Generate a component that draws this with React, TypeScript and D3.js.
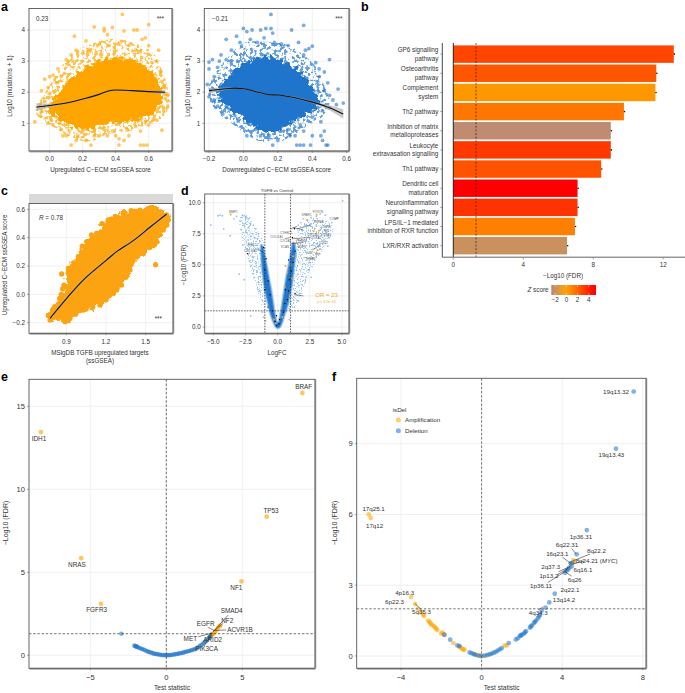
import React from "react";
import * as d3 from "d3";

type P = number[];
const FONT = "'Liberation Sans', Arial, sans-serif";
const ORANGE = "#FFA500";
const BLUE = "#1F74CC";

// ---- panel a, upregulated
const a1Halo: P[] = [[-0.09,1.44],[-0.03,1.95],[0.03,2.5],[0.09,2.95],[0.17,3.35],[0.28,3.6],[0.39,3.72],[0.5,3.6],[0.62,3.3],[0.68,2.72],[0.72,2.09],[0.73,1.6],[0.67,1.13],[0.57,0.88],[0.46,0.72],[0.35,0.65],[0.27,0.45],[0.18,0.45],[0.1,0.62],[0.02,0.9],[-0.04,1.1],[-0.08,1.28]];
const a1Core: P[] = [[-0.01,1.55],[0.05,1.95],[0.11,2.35],[0.19,2.7],[0.29,3.0],[0.4,3.1],[0.52,3.0],[0.6,2.75],[0.66,2.3],[0.68,1.8],[0.63,1.35],[0.54,1.15],[0.42,1.03],[0.32,0.97],[0.25,0.82],[0.17,0.82],[0.1,1.0],[0.04,1.2],[-0.01,1.35]];
const a1Points: P[] = [[0.44,4.5],[0.6,4.17],[0.27,4.1],[0.33,3.97],[0.35,3.85],[0.33,4.05],[0.38,4.08],[0.45,3.97],[0.51,4.0],[0.53,4.0],[0.15,3.8],[0.58,3.75],[0.22,3.65],[0.3,3.55],[0.56,3.7],[0.6,3.5],[0.66,3.35],[0.16,3.35],[0.05,2.75],[-0.03,2.42],[0.1,3.05],[0.13,3.2],[0.02,2.55],[-0.05,2.05],[-0.01,2.15],[0.0,1.95],[0.62,2.95],[0.67,2.65],[0.69,2.2],[0.71,1.95],[0.68,1.55],[0.69,1.4],[0.68,0.78],[0.6,0.95],[0.55,0.3],[0.57,0.3],[0.59,0.3],[0.42,0.3],[0.25,0.3],[0.13,0.3],[0.1,0.6],[0.08,0.6],[0.16,0.45],[0.17,0.6],[0.22,0.45],[0.3,0.6],[0.45,0.45],[0.48,0.6],[0.55,0.75],[0.07,0.8],[-0.01,1.0],[-0.09,1.05],[-0.05,1.37],[-0.06,1.25],[0.02,0.95],[0.04,1.2],[0.65,1.1],[0.62,1.3],[0.35,0.6],[0.4,0.6],[0.42,0.5],[0.27,0.6],[0.24,3.38],[0.28,3.25],[0.36,3.5],[0.42,3.55],[0.48,3.5],[0.52,3.35],[0.55,3.3],[0.2,3.25],[0.11,2.9],[0.07,2.5],[0.04,2.3],[0.0,2.5],[0.14,3.0],[0.65,3.0],[0.64,2.45],[0.68,2.35],[0.7,1.8],[-0.03,1.7],[0.01,1.1],[0.06,1.0],[0.12,0.75],[0.2,0.75],[0.27,0.8],[0.33,0.8],[0.38,0.75],[0.47,0.8],[0.52,0.9],[0.58,1.05],[0.63,1.15]];
const a1FitX = [-0.08,0,0.1,0.2,0.3,0.35,0.4,0.5,0.6,0.7];
const a1FitY = [1.52,1.57,1.65,1.78,1.93,2.03,2.07,2.05,2.02,2.0];
const a1FitSe = [0.13,0.06,0.03,0.02,0.02,0.02,0.02,0.02,0.03,0.07];

// ---- panel a, downregulated
const a2Halo: P[] = [[-0.2,2.19],[-0.14,2.8],[-0.08,3.2],[0.01,3.6],[0.13,3.62],[0.24,3.55],[0.35,3.2],[0.43,2.75],[0.47,2.19],[0.5,1.7],[0.46,1.23],[0.37,0.92],[0.3,0.65],[0.2,0.4],[0.08,0.45],[0.0,0.72],[-0.08,1.05],[-0.15,1.35],[-0.2,1.8]];
const a2Core: P[] = [[-0.15,2.05],[-0.09,2.45],[-0.03,2.8],[0.05,3.05],[0.13,3.15],[0.23,3.0],[0.31,2.72],[0.38,2.35],[0.42,2.0],[0.44,1.65],[0.39,1.38],[0.31,1.15],[0.25,0.92],[0.18,0.72],[0.1,0.77],[0.04,1.0],[-0.04,1.3],[-0.11,1.6],[-0.15,1.85]];
const a2Points: P[] = [[0.16,4.5],[0.35,4.15],[0.0,4.05],[0.02,3.95],[0.05,4.0],[0.1,4.0],[0.13,4.05],[0.16,4.05],[0.17,3.9],[0.28,4.0],[0.32,3.6],[0.4,3.48],[0.38,3.4],[0.36,3.35],[-0.04,3.8],[-0.1,3.7],[-0.2,2.97],[-0.2,2.75],[-0.18,3.05],[-0.13,3.2],[-0.1,3.05],[0.5,3.05],[0.44,2.75],[0.47,2.65],[0.49,2.3],[0.55,2.1],[0.58,1.65],[0.52,1.75],[0.54,1.6],[0.5,1.5],[-0.21,2.25],[-0.2,1.85],[-0.19,2.05],[-0.17,1.75],[-0.15,1.55],[-0.1,1.55],[-0.08,1.45],[-0.05,1.25],[0.02,0.6],[0.17,0.3],[0.31,0.3],[0.33,0.3],[0.35,0.3],[0.39,0.3],[0.49,0.3],[0.48,0.3],[0.45,0.6],[0.47,0.75],[0.46,0.45],[0.15,0.6],[0.2,0.45],[0.27,0.6],[0.3,0.6],[0.35,0.75],[0.4,0.6],[0.1,0.6],[0.07,0.8],[0.45,1.05],[-0.02,3.6],[0.04,3.7],[0.08,3.6],[0.12,3.75],[0.18,3.6],[0.22,3.55],[0.26,3.5],[-0.07,3.35],[-0.15,2.8],[-0.17,2.5],[-0.14,3.0],[0.35,3.2],[0.42,2.95],[0.44,2.5],[0.47,2.05],[0.5,1.9],[0.46,1.4],[0.4,1.2],[0.33,0.95],[0.26,0.8],[0.03,1.0],[-0.03,1.1],[-0.12,1.3]];
const a2FitX = [-0.2,-0.1,-0.05,0,0.1,0.15,0.2,0.3,0.4,0.5,0.58];
const a2FitY = [2.05,2.11,2.13,2.11,1.98,1.92,1.91,1.82,1.68,1.5,1.3];
const a2FitSe = [0.09,0.04,0.03,0.02,0.02,0.02,0.02,0.03,0.04,0.08,0.15];

// ---- panel b
const pathways = ["GP6 signalling|pathway","Osteoarthritis|pathway","Complement|system","Th2 pathway","Inhibition of matrix|metalloproteases","Leukocyte|extravasation signalling","Th1 pathway","Dendritic cell|maturation","Neuroinflammation|signalling pathway","LPS/IL−1 mediated|inhibition of RXR function","LXR/RXR activation"];
const pathwayFdr = [12.6,11.6,11.55,9.75,9.0,9.0,8.45,7.1,7.1,6.95,6.5];
const pathwayZ = [2.9,2.4,0.4,1.4,-2.4,3.3,2.5,5,3.45,1.15,-2.0];

// ---- panel c
const cCloud: P[] = [[0.764,-0.15],[0.814,-0.087],[0.852,-0.028],[0.903,0.054],[0.915,0.184],[0.991,0.266],[1.054,0.372],[1.129,0.431],[1.217,0.525],[1.331,0.572],[1.457,0.595],[1.57,0.607],[1.658,0.56],[1.671,0.525],[1.633,0.454],[1.583,0.372],[1.482,0.289],[1.406,0.242],[1.381,0.172],[1.318,0.066],[1.255,0.007],[1.154,-0.075],[1.028,-0.111],[0.928,-0.169],[0.89,-0.193],[0.84,-0.169],[0.777,-0.181]];
const cPoints: P[] = [[0.865,0.144],[1.575,0.209],[0.882,0.066],[0.872,0.038],[0.862,0.0],[0.85,-0.03],[0.915,-0.186],[0.95,0.2],[1.02,0.34],[1.09,0.42],[1.17,0.5],[1.27,0.55],[1.39,0.59],[1.51,0.6],[1.62,0.58],[1.66,0.49],[1.6,0.42],[1.53,0.33],[1.44,0.27],[1.39,0.21],[1.35,0.12],[1.28,0.03],[1.2,-0.04],[1.1,-0.09],[0.97,-0.14],[0.8,-0.12]];
const cFit: P[] = [[0.777,-0.169],[0.903,-0.028],[1.028,0.101],[1.204,0.242],[1.28,0.301],[1.406,0.379],[1.532,0.473],[1.658,0.567]];

// ---- panel d
const dCore: P[] = [[-0.15,0],[-0.5,0.8],[-0.8,2],[-1.0,3],[-1.15,4],[-1.25,5],[-1.3,6],[-1.3,6.6],[-1.15,6.5],[-1.0,5.8],[-0.85,5],[-0.68,4],[-0.5,3],[-0.35,2],[-0.2,1],[-0.05,0.4],[0.05,0.4],[0.2,1],[0.35,2],[0.5,3],[0.65,4],[0.85,5],[1.02,6],[1.2,6.8],[1.3,6.7],[1.4,6],[1.3,5],[1.2,4],[1.05,3],[0.85,2],[0.55,1],[0.2,0],[0,-0.1]];
const dHaloLeft: P[] = [[-1.1,1.5],[-1.6,3.0],[-2.15,4.85],[-2.5,6.2],[-2.9,7.6],[-2.9,8.9],[-2.2,8.9],[-1.9,8.1],[-1.4,7.5],[-1.05,6.7],[-0.9,5],[-0.75,3]];
const dHaloRight: P[] = [[0.75,1.3],[1.5,1.9],[2.25,3.8],[3,5.4],[3.8,6.7],[4.3,8.0],[3.2,8.8],[2.2,8.5],[1.6,7.9],[1.25,7],[0.95,5],[0.7,3]];
const dScatter: P[] = [[-5.2,8.2],[-4.64,8.95],[-4.48,9.0],[-4.3,8.95],[-4.2,7.9],[-3.7,7.35],[-3.4,8.7],[-3.2,8.9],[-2.75,9.0],[-2.6,8.95],[-2.45,8.85],[-2.3,8.7],[-2.9,8.5],[-2.6,8.3],[-2.3,8.0],[-2.1,8.3],[-1.9,8.2],[-1.7,7.9],[-2.4,7.6],[-2.1,7.3],[-1.8,7.2],[-1.5,7.5],[-2.7,6.6],[-2.4,6.3],[-2.3,7.0],[-2.0,6.6],[-1.7,6.3],[-1.4,6.9],[-2.2,5.3],[-2.1,4.9],[-1.9,5.6],[-1.7,5.1],[-1.6,4.5],[-1.5,3.6],[-1.9,4.3],[-1.4,2.9],[-3.0,4.25],[-2.6,3.8],[-2.1,0.9],[2.6,4.0],[2.05,5.1],[5.05,10.15],[4.5,8.7],[4.2,8.4],[3.7,9.0],[3.3,9.1],[3.0,8.9],[2.6,8.8],[2.3,8.6],[2.0,8.7],[1.8,8.4],[1.6,8.2],[2.2,8.2],[2.6,8.3],[3.0,8.2],[3.4,8.0],[3.8,7.6],[4.0,7.2],[3.6,7.0],[3.9,6.5],[3.3,6.3],[3.0,6.7],[2.7,6.6],[3.0,5.7],[2.8,5.5],[2.5,5.2],[2.4,4.6],[2.2,4.0],[1.9,3.4],[1.7,2.7],[1.6,2.1],[1.3,1.6],[-1.2,1.2],[-1.1,0.8],[0.9,0.6],[-0.95,0.5]];
const dGold: P[] = [[-3.65,9.05],[4.64,8.76],[3.03,9.03],[2.3,8.6],[2.8,7.7],[3.2,7.75],[1.6,7.0],[1.35,6.7],[3.1,6.2],[3.0,5.85],[2.7,5.5],[1.2,5.7],[1.0,5.0],[0.75,4.4],[0.6,4.9],[1.1,3.9],[0.55,3.2],[0.95,2.5],[-0.3,0.6],[0.35,0.8],[-0.15,0.3]];
const dBlack: P[] = [[-2.35,5.9],[-1.1,6.4],[-0.9,5.5],[-1.0,4.6],[-0.75,3.7],[-1.0,3.0],[-0.6,2.6],[-0.75,1.6],[-0.4,1.3],[-0.1,0.9],[-0.2,0.45],[-0.1,0.1],[0.1,0.25],[0.15,0.6],[0.45,1.2],[0.55,1.9],[0.75,2.2],[0.6,3.0],[0.85,2.9],[1.35,2.7],[0.9,3.8],[1.05,4.5],[1.2,5.2],[0.85,5.4],[1.35,6.1],[1.3,7.9],[1.15,7.2]];
const dTags = ["MMP1","POSTN","SPARC","COMP","INHBA","TGFBI","FN1","COL5A2 COL3A1","COL11A1","CTHRC1","COL1A2","LOXL2","COL1A1","THBS2","VCAN","ASPN","LUM","Fst","SFRP2","LRRC15","COL10A1"];
const dTagX = [-3.45,3.13,2.25,4.38,3.2,3.78,3.8,3.21,-0.08,0.67,2.95,3.55,0.6,1.9,0.57,1.9,2.44,3.16,2.56,-1.97,-2.1];
const dTagY = [9.2,9.19,8.97,8.6,8.36,8.0,7.66,7.29,7.15,7.45,7.07,6.67,6.8,6.8,6.32,6.32,5.9,5.8,5.38,6.53,6.0];

// ---- panel e
const eGenes = ["BRAF","IDH1","TP53","NRAS","NF1","FGFR3"];
const eGeneStat = [8.95,-8.25,6.6,-5.6,4.95,-4.3];
const eGeneFdr = [15.8,13.45,8.35,5.85,4.45,3.1];
const eBlueStat = [-2.95,-2.1,-2.05,-2.0,-1.95,-1.9,-1.8,-1.7,-1.6,-1.5,-1.4,-1.3,-1.2,-1.1,-1.0,-0.9,-0.8,-0.7,-0.6,-0.5,-0.4,-0.3,-0.2,-0.1,0,0.1,0.2,0.3,0.4,0.5,0.6,0.7,0.8,0.9,1.0,1.1,1.2,1.3,1.4,1.5,1.6,1.7,1.8,1.9,2.0,2.1,2.2,2.3,2.4,2.5,2.6,2.7,2.8,2.85,2.9,2.95,3.0];
const eBlueFdr = [1.3,0.58,0.56,0.54,0.52,0.5,0.45,0.42,0.38,0.35,0.3,0.26,0.22,0.19,0.17,0.13,0.1,0.08,0.07,0.05,0.03,0.02,0.01,0.01,0,0.01,0.01,0.02,0.03,0.05,0.07,0.08,0.1,0.12,0.14,0.16,0.19,0.21,0.24,0.26,0.29,0.32,0.35,0.38,0.42,0.48,0.55,0.62,0.7,0.78,0.85,0.95,1.05,1.1,1.15,1.2,1.27];
const eGoldStat = [3.0,3.1,3.2,3.3,3.4,3.5,3.55];
const eGoldFdr = [1.25,1.3,1.4,1.5,1.65,1.75,1.8];
const eTags = ["SMAD4","NF2","EGFR","ACVR1B","MET","ARID2","PIK3CA"];

// ---- panel f
const fDelStat = [7.55,6.67,5.22,4.72,4.42,4.47,4.3,4.22,4.14,3.63,3.36,3.18,2.98,2.9,2.8,2.7,2.6,2.5,2.4,2.2,2.1,2.0,1.9,1.8,1.7,1.35,1.0,0.9,0.8,0.7,0.6,0.5,0.4,0.3,0.15,0,-0.15,-0.3,-0.4,-0.5,-0.6,-1.1,-1.2,-1.56,-1.85,2.85,2.65,2.45,2.15,1.95,4.35,4.5];
const fDelFdr = [11.21,8.79,5.34,4.31,3.93,3.79,3.67,3.62,3.53,2.64,2.27,2.05,1.92,1.75,1.6,1.5,1.4,1.3,1.2,1.05,0.95,0.9,0.85,0.75,0.7,0.55,0.33,0.28,0.23,0.17,0.14,0.1,0.07,0.05,0.02,0,0.02,0.05,0.08,0.12,0.15,0.42,0.45,0.69,0.9,1.68,1.45,1.25,1.0,0.87,3.75,3.95];
const fAmpStat = [-5.6,-5.5,-3.5,-3.3,-3.15,-3.0,-2.9,-2.65,-2.55,-2.45,-2.35,-2.25,-2.2,-1.95,-1.85,-1.4,-1.1,-0.95,-0.9,-0.85,-0.35,-0.2,-0.05,0.2,1.15,1.25,4.55,4.6,4.45,-2.85,-2.6,-2.5,-2.3,-2.0,-1.05];
const fAmpFdr = [6.0,5.85,2.5,2.2,2.0,1.85,1.75,1.5,1.4,1.3,1.25,1.15,1.1,1.0,0.9,0.55,0.4,0.3,0.27,0.27,0.08,0.03,0,0.02,0.45,0.45,4.05,4.0,3.9,1.7,1.45,1.35,1.2,0.95,0.35];
const fTags = ["19q13.32","19q13.43","17q25.1","17q12","4p16.3","6p22.3","5q35.3","1p36.31","6q22.31","8q22.2","16q23.1","2q37.3","6q16.1","1p13.2","6q26","1p36.11","2q22.1","13q14.2","4q34.3"];

const W = 685, H = 693;

function xy(x: any, y: any) {
  return d3.line<P>().x(d => x(d[0])).y(d => y(d[1]));
}

const T = (p: any) => <text fontFamily={FONT} fontSize={6.3} fill="#333" {...p} />;

function Filters() {
  return (
    <defs>
      <filter id="speckle" x="-10%" y="-10%" width="120%" height="120%" colorInterpolationFilters="sRGB">
        <feTurbulence type="fractalNoise" baseFrequency="0.3" numOctaves="2" seed="4" result="n" />
        <feColorMatrix in="n" type="matrix" values="0 0 0 0 0  0 0 0 0 0  0 0 0 0 0  0 0 0 10 -4.9" result="m" />
        <feComposite in="SourceGraphic" in2="m" operator="in" />
      </filter>
      <filter id="speckleFine" x="-10%" y="-10%" width="120%" height="120%" colorInterpolationFilters="sRGB">
        <feTurbulence type="fractalNoise" baseFrequency="0.75" numOctaves="1" seed="9" result="n" />
        <feColorMatrix in="n" type="matrix" values="0 0 0 0 0  0 0 0 0 0  0 0 0 0 0  0 0 0 8 -4.2" result="m" />
        <feComposite in="SourceGraphic" in2="m" operator="in" />
      </filter>
      <filter id="rough" x="-10%" y="-10%" width="120%" height="120%" colorInterpolationFilters="sRGB">
        <feTurbulence type="fractalNoise" baseFrequency="0.22" numOctaves="2" seed="7" result="n" />
        <feDisplacementMap in="SourceGraphic" in2="n" scale="11" xChannelSelector="R" yChannelSelector="G" />
      </filter>
    </defs>
  );
}

function Frame({ x0, x1, y0, y1 }: any) {
  return (
    <g fill="none">
      <line x1={x0 + 0.5} x2={x1 + 0.5} y1={y1 + 0.5} y2={y1 + 0.5} stroke="#aaa" strokeWidth={2} />
      <line x1={x1 + 0.5} x2={x1 + 0.5} y1={y0} y2={y1} stroke="#aaa" strokeWidth={1.6} />
      <rect x={x0} y={y0} width={x1 - x0} height={y1 - y0} stroke="#555" strokeWidth={0.9} />
    </g>
  );
}

function Grid({ x, y, xt, yt, x0, x1, y0, y1 }: any) {
  return (
    <g stroke="#ececec" strokeWidth={0.8}>
      {xt.map((t: number) => <line key={"x" + t} x1={x(t)} x2={x(t)} y1={y0} y2={y1} />)}
      {yt.map((t: number) => <line key={"y" + t} y1={y(t)} y2={y(t)} x1={x0} x2={x1} />)}
    </g>
  );
}

function Ticks({ x, y, xt, yt, x0, y1, size = 6.3, xf, yf, xLab, yLab }: any) {
  const fx = xf || ((t: number) => d3.format(".1f")(t).replace("-", "−"));
  const fy = yf || ((t: number) => String(t).replace("-", "−"));
  return (
    <g>
      {xt.map((t: number) => (
        <g key={"x" + t}>
          <line x1={x(t)} x2={x(t)} y1={y1} y2={y1 + 2} stroke="#555" strokeWidth={0.5} />
          <T x={x(t)} y={y1 + (xLab ?? 9.5)} textAnchor="middle" fontSize={size}>{fx(t)}</T>
        </g>
      ))}
      {yt.map((t: number) => (
        <g key={"y" + t}>
          <line x1={x0 - 2} x2={x0} y1={y(t)} y2={y(t)} stroke="#555" strokeWidth={0.5} />
          <T x={x0 - (yLab ?? 4)} y={y(t) + size * 0.36} textAnchor="end" fontSize={size}>{fy(t)}</T>
        </g>
      ))}
    </g>
  );
}

const Dots = ({ pts, x, y, r, fill, op }: any) => (
  <g fill={fill} fillOpacity={op}>
    {pts.map((d: P, i: number) => <circle key={i} cx={x(d[0])} cy={y(d[1])} r={r} />)}
  </g>
);

function zip(a: number[], b: number[]): P[] { return a.map((v, i) => [v, b[i]]); }

function Blob({ pts, x, y, fill, op, filter }: any) {
  const l = xy(x, y).curve(d3.curveCatmullRomClosed.alpha(0.5));
  return <path d={l(pts) as string} fill={fill} fillOpacity={op} filter={filter} />;
}

function Fit({ xs, ys, se, x, y }: any) {
  const rows = xs.map((v: number, i: number) => [v, ys[i], se[i]]);
  const area = d3.area<number[]>().x(d => x(d[0])).y0(d => y(d[1] - d[2])).y1(d => y(d[1] + d[2])).curve(d3.curveMonotoneX);
  const line = d3.line<number[]>().x(d => x(d[0])).y(d => y(d[1])).curve(d3.curveMonotoneX);
  return (
    <g>
      <path d={area(rows) as string} fill="#aaa" fillOpacity={0.65} />
      <path d={line(rows) as string} fill="none" stroke="#111" strokeWidth={1.1} />
    </g>
  );
}

function Letter({ x, y, c }: any) {
  return <text x={x} y={y} fontFamily={FONT} fontWeight="bold" fontSize={12.5} fill="#000">{c}</text>;
}

function ScatterA({ x, y, x0, x1, xt, halo, core, pts, fit, fill, label, labelX, starX, axisLabel, ylabX }: any) {
  const y0 = 8.5, y1 = 151;
  const yt = [1, 2, 3, 4];
  return (
    <g>
      <Grid {...{ x, y, xt, yt, x0, x1, y0, y1 }} />
      <Blob pts={halo} x={x} y={y} fill={fill} op={0.7} filter="url(#speckle)" />
      <Blob pts={core} x={x} y={y} fill={fill} op={1} filter="url(#rough)" />
      <Dots pts={pts} x={x} y={y} r={1.9} fill={fill} op={0.6} />
      <Fit xs={fit[0]} ys={fit[1]} se={fit[2]} x={x} y={y} />
      <Frame {...{ x0, x1, y0, y1 }} />
      <Ticks {...{ x, y, xt, yt, x0, y1 }} />
      <T x={labelX} y={20.5} fontSize={6.3}>{label}</T>
      <T x={starX} y={20.5} textAnchor="end" fontSize={6.3}>***</T>
      <T x={(x0 + x1) / 2} y={172} textAnchor="middle">{axisLabel}</T>
      <T transform={`translate(${ylabX},86) rotate(-90)`} textAnchor="middle">Log10 (mutations + 1)</T>
    </g>
  );
}

function PanelB() {
  const x = d3.scaleLinear().domain([0, 12]).range([453.3, 663.3]);
  const y = d3.scaleBand<string>().domain(pathways).range([45.4, 254.4]).paddingInner(0.09);
  const z = d3.scaleLinear<string>().domain([-2.6, 0, 5]).range(["#BA8A7A", "#FFA500", "#FF0000"]);
  const zb = d3.scaleLinear().domain([-2.7, 5.3]).range([551.3, 596]);
  const stops = d3.range(-2.7, 5.31, 0.8);
  return (
    <g>
      <defs>
        <linearGradient id="zGrad" x1="0" x2="1" y1="0" y2="0">
          {stops.map(s => <stop key={s} offset={(s + 2.7) / 8} stopColor={z(Math.min(s, 5))} />)}
        </linearGradient>
      </defs>
      {pathways.map((p, i) => {
        const lines = p.split("|");
        const cy = (y(p) as number) + y.bandwidth() / 2;
        return (
          <g key={p}>
            <rect x={x(0)} y={y(p)} width={x(pathwayFdr[i]) - x(0)} height={y.bandwidth()} fill={z(pathwayZ[i])} />
            <circle cx={x(pathwayFdr[i]) + 0.6} cy={cy} r={0.8} fill="#111" />
            <line x1={440.3} x2={442.3} y1={cy} y2={cy} stroke="#444" strokeWidth={0.5} />
            {lines.map((l, j) => (
              <T key={j} x={438.3} y={cy + 2.2 + (j - (lines.length - 1) / 2) * 8.4} textAnchor="end">{l}</T>
            ))}
          </g>
        );
      })}
      <line x1={x(1.3)} x2={x(1.3)} y1={43} y2={257} stroke="#222" strokeWidth={0.7} strokeDasharray="2 1.6" />
      <line x1={x(0)} x2={x(0)} y1={43} y2={257} stroke="#111" strokeWidth={0.9} />
      <line x1={442.3} x2={442.3} y1={43} y2={257} stroke="#333" strokeWidth={0.9} />
      <line x1={442} x2={685} y1={257.2} y2={257.2} stroke="#666" strokeWidth={1} />
      {[0, 4, 8, 12].map(t => (
        <g key={t}>
          <line x1={x(t)} x2={x(t)} y1={257.5} y2={259.5} stroke="#555" strokeWidth={0.5} />
          <T x={x(t)} y={267} textAnchor="middle">{t}</T>
        </g>
      ))}
      <T x={563} y={278} textAnchor="middle">−Log10 (FDR)</T>
      <T x={548.5} y={292.3} textAnchor="end"><tspan fontStyle="italic">Z</tspan> score</T>
      <rect x={551.3} y={285} width={44.7} height={10} fill="url(#zGrad)" />
      {[-2, 0, 2, 4].map(t => (
        <g key={t}>
          <line x1={zb(t)} x2={zb(t)} y1={285} y2={287} stroke="#fff" strokeWidth={0.4} />
          <line x1={zb(t)} x2={zb(t)} y1={293} y2={295} stroke="#fff" strokeWidth={0.4} />
          <T x={zb(t)} y={302} textAnchor="middle">{String(t).replace("-", "−")}</T>
        </g>
      ))}
    </g>
  );
}

function PanelC() {
  const x = d3.scaleLinear().domain([0.9, 1.5]).range([66.3, 145.7]);
  const y = d3.scaleLinear().domain([-0.2, 0.6]).range([322.7, 209.3]);
  const x0 = 29, x1 = 173, y0 = 203.5, y1 = 333.3;
  const fill = "#FCA311";
  const l = xy(x, y).curve(d3.curveCatmullRom.alpha(0.5));
  const lc = xy(x, y).curve(d3.curveCatmullRomClosed.alpha(0.5));
  return (
    <g>
      <Grid {...{ x, y, xt: [0.9, 1.2, 1.5], yt: [-0.2, 0, 0.2, 0.4, 0.6], x0, x1, y0, y1 }} />
      <g filter="url(#rough)">
        <path d={lc(cCloud) as string} fill={fill} stroke={fill} strokeWidth={2} strokeLinejoin="round" />
      </g>
      <Dots pts={cCloud} x={x} y={y} r={2.6} fill={fill} op={1} />
      <Dots pts={cPoints} x={x} y={y} r={2.6} fill={fill} op={1} />
      <path d={l(cFit) as string} fill="none" stroke="#bbb" strokeWidth={2.4} opacity={0.5} />
      <path d={l(cFit) as string} fill="none" stroke="#111" strokeWidth={1.1} />
      <rect x={x0} y={194} width={x1 - x0} height={9.5} fill="#D9D9D9" />
      <Frame {...{ x0, x1, y0, y1 }} />
      <Ticks {...{ x, y, xt: [0.9, 1.2, 1.5], yt: [-0.2, 0, 0.2, 0.4, 0.6], x0, y1, yf: (t: number) => d3.format(".1f")(t).replace("-", "−"), xLab: 10.5 }} />
      <T x={39} y={220}><tspan fontStyle="italic">R</tspan> = 0.78</T>
      <T x={162} y={321} textAnchor="end">***</T>
      <T x={100} y={354.5} textAnchor="middle">MSigDB TGFB upregulated targets</T>
      <T x={100} y={363} textAnchor="middle">(ssGSEA)</T>
      <T transform="translate(6.5,265) rotate(-90)" textAnchor="middle">Upregulated C−ECM ssGSEA score</T>
    </g>
  );
}

function PanelD() {
  const x = d3.scaleLinear().domain([-5, 5]).range([213.4, 342]);
  const y = d3.scaleLinear().domain([0, 10]).range([327, 202.7]);
  const x0 = 204.7, x1 = 349, y0 = 194, y1 = 333.3;
  const xt = [-5, -2.5, 0, 2.5, 5], yt = [0, 2.5, 5, 7.5, 10];
  const leaders: P[][] = [[[1.5,7.9],[2.6,8.2]],[[1.2,8.0],[2.0,7.8]],[[1.1,7.1],[2.5,7.2]],[[1.0,6.7],[2.0,6.8]],[[2.7,6.2],[3.3,6.6]],[[0.55,7.1],[0.95,7.2]],[[1.0,7.9],[1.5,8.1]],[[-1.6,6.3],[-1.1,6.0]],[[1.3,2.6],[2.0,2.5]]];
  const curveC = xy(x, y).curve(d3.curveCatmullRomClosed);
  return (
    <g>
      <Grid {...{ x, y, xt, yt, x0, x1, y0, y1 }} />
      <path d={curveC(dHaloLeft) as string} fill="#6AA8E6" fillOpacity={0.7} filter="url(#speckleFine)" />
      <path d={curveC(dHaloRight) as string} fill="#6AA8E6" fillOpacity={0.7} filter="url(#speckleFine)" />
      <path d={curveC(dCore) as string} fill={BLUE} stroke="#6AA8E6" strokeOpacity={0.55} strokeWidth={2.2} />
      <Dots pts={dScatter} x={x} y={y} r={0.9} fill="#5E9FE0" op={0.65} />
      <Dots pts={dGold} x={x} y={y} r={1} fill="#F5A623" op={1} />
      <Dots pts={dBlack} x={x} y={y} r={0.7} fill="#000" op={1} />
      {leaders.map((s, i) => <line key={i} x1={x(s[0][0])} y1={y(s[0][1])} x2={x(s[1][0])} y2={y(s[1][1])} stroke="#111" strokeWidth={0.45} />)}
      {dTags.map((t, i) => <T key={t} x={x(dTagX[i])} y={y(dTagY[i])} fontSize={3} fill="#666" textAnchor="middle">{t}</T>)}
      <g stroke="#222" strokeWidth={0.7} strokeDasharray="1.6 1.2">
        <line x1={x(-1)} x2={x(-1)} y1={y0} y2={y1} />
        <line x1={x(1)} x2={x(1)} y1={y0} y2={y1} />
        <line x1={x0} x2={x1} y1={y(1.3)} y2={y(1.3)} />
      </g>
      <Frame {...{ x0, x1, y0, y1 }} />
      <Ticks {...{ x, y, xt, yt, x0, y1, xLab: 10.5, yf: (t: number) => d3.format(".1f")(t), xf: (t: number) => d3.format(".1f")(t).replace("-", "−") }} />
      <T x={277} y={192} textAnchor="middle" fontSize={4.4}>TGFB vs Control</T>
      <T x={326.5} y={297} textAnchor="middle" fontSize={6} fill="#F5A623">OR = 23</T>
      <T x={326.5} y={302.5} textAnchor="middle" fontSize={3.4} fill="#F5A623"><tspan fontStyle="italic">p</tspan> &lt; 3.2e−16</T>
      <T x={277} y={354.5} textAnchor="middle">LogFC</T>
      <T transform="translate(186,265) rotate(-90)" textAnchor="middle">−Log10 (FDR)</T>
    </g>
  );
}

function PanelE() {
  const x = d3.scaleLinear().domain([-5, 5]).range([90.3, 242.3]);
  const y = d3.scaleLinear().domain([0, 15]).range([655.3, 406.3]);
  const x0 = 29, x1 = 315, y0 = 379.3, y1 = 668.3;
  const xt = [-5, 0, 5], yt = [0, 5, 10, 15];
  const geneLabelX = [9.04,-8.38,6.89,-5.88,4.61,-4.58];
  const geneLabelY = [16.18,13.05,8.71,5.48,4.08,2.75];
  const tagX = [4.3,4.01,2.59,4.85,1.58,3.05,2.65];
  const tagY = [2.69,2.09,1.89,1.53,1.0,0.96,0.4];
  const leaders: P[][] = [[[4.08,2.43],[3.09,1.43]],[[3.75,1.93],[3.09,1.43]],[[2.75,1.68],[3.18,1.48]],[[3.93,1.53],[3.2,1.49]],[[2.1,1.12],[2.98,1.33]],[[2.76,1.12],[3.05,1.33]],[[2.48,0.56],[2.98,1.23]]];
  return (
    <g>
      <Grid {...{ x, y, xt, yt, x0, x1, y0, y1 }} />
      <Dots pts={zip(eBlueStat, eBlueFdr)} x={x} y={y} r={2.3} fill={BLUE} op={0.55} />
      <Dots pts={zip(eGoldStat, eGoldFdr)} x={x} y={y} r={2.3} fill={ORANGE} op={0.6} />
      <Dots pts={zip(eGeneStat, eGeneFdr)} x={x} y={y} r={2.4} fill={ORANGE} op={0.62} />
      <g stroke="#333" strokeWidth={0.7} strokeDasharray="2.4 1.8">
        <line x1={x(0)} x2={x(0)} y1={y0} y2={y1} />
        <line x1={x0} x2={x1} y1={y(1.3)} y2={y(1.3)} />
      </g>
      {leaders.map((s, i) => <line key={i} x1={x(s[0][0])} y1={y(s[0][1])} x2={x(s[1][0])} y2={y(s[1][1])} stroke="#111" strokeWidth={0.5} />)}
      {eGenes.map((g, i) => <T key={g} x={x(geneLabelX[i])} y={y(geneLabelY[i]) + 2.3} fontSize={6.4} textAnchor="middle">{g}</T>)}
      {eTags.map((g, i) => <T key={g} x={x(tagX[i])} y={y(tagY[i]) + 2.3} fontSize={6.4} textAnchor="middle">{g}</T>)}
      <Frame {...{ x0, x1, y0, y1 }} />
      <Ticks {...{ x, y, xt, yt, x0, y1, size: 7.6, xLab: 11.5, xf: (t: number) => String(t).replace("-", "−") }} />
      <T x={172} y={690} textAnchor="middle" fontSize={6.6}>Test statistic</T>
      <T transform="translate(7.5,523) rotate(-90)" textAnchor="middle" fontSize={7}>−Log10 (FDR)</T>
    </g>
  );
}

function PanelF() {
  const x = d3.scaleLinear().domain([-4, 8]).range([401, 642.8]);
  const y = d3.scaleLinear().domain([0, 9]).range([656, 443.7]);
  const x0 = 356.7, x1 = 646, y0 = 378.3, y1 = 668.3;
  const xt = [-4, 0, 4, 8], yt = [0, 3, 6, 9];
  const tagX = [6.67,6.44,-5.36,-5.31,-3.82,-4.32,-2.98,4.93,4.24,5.7,3.76,3.43,5.03,3.34,4.62,2.95,4.39,4.09,2.81];
  const tagY = [11.2,8.52,6.24,5.54,2.7,2.29,1.89,5.07,4.73,4.46,4.32,3.79,3.64,3.38,3.25,2.97,2.81,2.4,1.84];
  const leaders: P[][] = [[[-3.31,2.23],[-2.98,1.95]],[[4.47,4.56],[4.69,4.32]],[[4.02,4.18],[4.42,3.93]],[[5.38,4.32],[4.55,4.04]],[[5.1,4.03],[4.55,3.9]],[[3.81,3.57],[4.39,3.79]],[[3.73,3.43],[4.3,3.71]],[[3.28,3.11],[4.22,3.62]],[[4.47,3.39],[4.14,3.57]],[[2.81,1.95],[3.06,2.09]]];
  return (
    <g>
      <Grid {...{ x, y, xt, yt, x0, x1, y0, y1 }} />
      <Dots pts={zip(fAmpStat, fAmpFdr)} x={x} y={y} r={2.4} fill={ORANGE} op={0.55} />
      <Dots pts={zip(fDelStat, fDelFdr)} x={x} y={y} r={2.4} fill={BLUE} op={0.55} />
      <g stroke="#555" strokeWidth={0.8} strokeDasharray="2.4 1.8">
        <line x1={x(0)} x2={x(0)} y1={y0} y2={y1} />
        <line x1={x0} x2={x1} y1={y(2)} y2={y(2)} />
      </g>
      {leaders.map((s, i) => <line key={i} x1={x(s[0][0])} y1={y(s[0][1])} x2={x(s[1][0])} y2={y(s[1][1])} stroke="#111" strokeWidth={0.5} />)}
      {fTags.map((g, i) => <T key={g} x={x(tagX[i])} y={y(tagY[i]) + 2.2} fontSize={6.2} textAnchor="middle">{g}</T>)}
      <T x={x(5.71)} y={y(4.05) + 2.2} fontSize={6.2} textAnchor="middle">8q24.21 (<tspan fontStyle="italic">MYC</tspan>)</T>
      <T x={392.7} y={411.7} fontSize={6.2}>isDel</T>
      <circle cx={398.3} cy={420} r={2.5} fill={ORANGE} fillOpacity={0.55} />
      <T x={405} y={422.2} fontSize={6.2}>Amplification</T>
      <circle cx={398.3} cy={430.7} r={2.5} fill={BLUE} fillOpacity={0.55} />
      <T x={405} y={432.9} fontSize={6.2}>Deletion</T>
      <Frame {...{ x0, x1, y0, y1 }} />
      <Ticks {...{ x, y, xt, yt, x0, y1, size: 7.6, xLab: 11.5, xf: (t: number) => String(t).replace("-", "−") }} />
      <T x={501.7} y={690} textAnchor="middle" fontSize={6.6}>Test statistic</T>
      <T transform="translate(337,523) rotate(-90)" textAnchor="middle" fontSize={7}>−Log10 (FDR)</T>
    </g>
  );
}

export default function App() {
  const yA = d3.scaleLinear().domain([1, 4]).range([123.3, 30]);
  const xA1 = d3.scaleLinear().domain([0, 0.6]).range([49.7, 148.7]);
  const xA2 = d3.scaleLinear().domain([-0.2, 0.6]).range([209, 346.7]);
  return (
    <svg width={W} height={H} viewBox={`0 0 ${W} ${H}`} style={{ position: "absolute", left: 0, top: 0, background: "#fff" }}>
      <Filters />
      <Letter x={1} y={11} c="a" />
      <Letter x={361} y={11} c="b" />
      <Letter x={1} y={195} c="c" />
      <Letter x={181} y={195} c="d" />
      <Letter x={1} y={381} c="e" />
      <Letter x={332} y={381} c="f" />
      <ScatterA x={xA1} y={yA} x0={29} x1={172} xt={[0, 0.2, 0.4, 0.6]} halo={a1Halo} core={a1Core} pts={a1Points} fit={[a1FitX, a1FitY, a1FitSe]} fill={ORANGE} label="0.23" labelX={36} starX={164} axisLabel="Upregulated C−ECM ssGSEA score" ylabX={11.5} />
      <ScatterA x={xA2} y={yA} x0={204.3} x1={349} xt={[-0.2, 0, 0.2, 0.4, 0.6]} halo={a2Halo} core={a2Core} pts={a2Points} fit={[a2FitX, a2FitY, a2FitSe]} fill={BLUE} label="−0.21" labelX={212} starX={342.5} axisLabel="Downregulated C−ECM ssGSEA score" ylabX={190} />
      <PanelB />
      <PanelC />
      <PanelD />
      <PanelE />
      <PanelF />
    </svg>
  );
}
